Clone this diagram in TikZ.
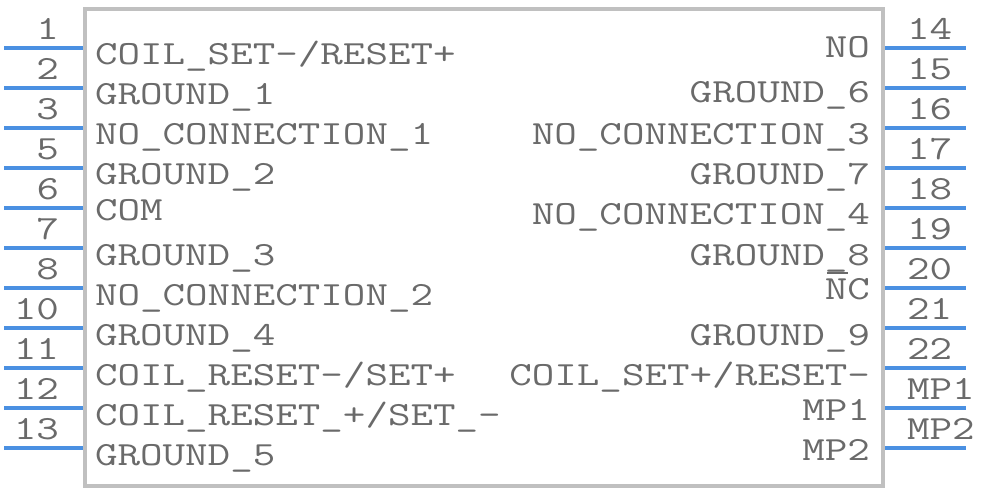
\documentclass[tikz,border=0pt]{standalone}
\usepackage{graphicx}
\definecolor{txt}{HTML}{6A6A6A}
\definecolor{pinc}{HTML}{4A90E2}
\definecolor{boxc}{HTML}{C0C0C0}
\newcommand\sx[1]{\scalebox{1.295}[1]{#1}}
\tikzset{
  lbl/.style={inner sep=0pt, outer sep=0pt, text=txt, font=\ttfamily\fontsize{33.8}{40}\selectfont},
  lblL/.style={lbl, anchor=base west},
  lblR/.style={lbl, anchor=base east},
  pinline/.style={draw=pinc, line width=3.2pt},
  bodybox/.style={draw=boxc, line width=4pt}
}
\begin{document}
\begin{tikzpicture}[x=1pt,y=-1pt]
\useasboundingbox (0,0) rectangle (986,492);
% pins
\foreach \n [count=\i from 0] in {1,2,3,5,6,7,8,10,11,12,13} {
  \coordinate (La\n) at (4,48+40*\i);
  \coordinate (Lb\n) at (84,48+40*\i);
  \draw[pinline] (La\n) -- (Lb\n);
  \node[lblR] (Ln\n) at (59,39.5+40*\i) {\sx{\n}};
}
\foreach \n [count=\i from 0] in {14,15,16,17,18,19,20,21,22,MP1,MP2} {
  \coordinate (Ra\n) at (884,48+40*\i);
  \coordinate (Rb\n) at (966,48+40*\i);
  \draw[pinline] (Ra\n) -- (Rb\n);
  \node[lblL] (Rn\n) at (907,39.5+40*\i) {\sx{\n}};
}
% body
\draw[bodybox] (85,9) rectangle (883,486);
% left labels
\node[lblL] (l1) at (95,65) {\sx{COIL\_SET-/RESET+}};
\node[lblL] (l2) at (95,105) {\sx{GROUND\_1}};
\node[lblL] (l3) at (95,145) {\sx{NO\_CONNECTION\_1}};
\node[lblL] (l4) at (95,185) {\sx{GROUND\_2}};
\node[lblL] (l5) at (95,220) {\sx{COM}};
\node[lblL] (l6) at (95,265) {\sx{GROUND\_3}};
\node[lblL] (l7) at (95,305) {\sx{NO\_CONNECTION\_2}};
\node[lblL] (l8) at (95,345) {\sx{GROUND\_4}};
\node[lblL] (l9) at (95,385) {\sx{COIL\_RESET-/SET+}};
\node[lblL] (l10) at (95,425) {\sx{COIL\_RESET\_+/SET\_-}};
\node[lblL] (l11) at (95,465) {\sx{GROUND\_5}};
% right labels
\node[lblR] (r1) at (870,58) {\sx{NO}};
\node[lblR] (r2) at (870,103) {\sx{GROUND\_6}};
\node[lblR] (r3) at (870,145) {\sx{NO\_CONNECTION\_3}};
\node[lblR] (r4) at (870,185) {\sx{GROUND\_7}};
\node[lblR] (r5) at (870,225) {\sx{NO\_CONNECTION\_4}};
\node[lblR] (r6) at (870,265) {\sx{GROUND\_8}};
\node[lblR] (r7) at (870,299) {\sx{NC}};
\node[lblR] (r8) at (870,345) {\sx{GROUND\_9}};
\node[lblR] (r9) at (870,385) {\sx{COIL\_SET+/RESET-}};
\node[lblR] (r10) at (870,420) {\sx{MP1}};
\node[lblR] (r11) at (870,460) {\sx{MP2}};
\draw[txt, line width=2pt] ([shift={(2pt,26pt)}]r7.base west) -- ++(21pt,0);
\end{tikzpicture}
\end{document}
